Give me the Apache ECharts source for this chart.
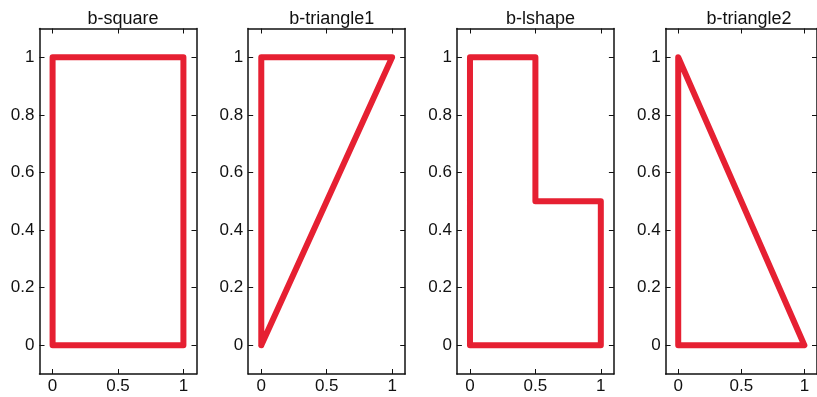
<!DOCTYPE html>
<html>
<head>
<meta charset="utf-8">
<script src="https://cdn.jsdelivr.net/npm/echarts@6/dist/echarts.min.js"></script>
<style>
html,body{margin:0;padding:0;background:#fff;}
#chart{width:817px;height:397px;}
</style>
</head>
<body>
<div id="chart"></div>
<script>
const titles = ['b-square', 'b-triangle1', 'b-lshape', 'b-triangle2'];
const squareX = [0, 0, 1, 1, 0];
const squareY = [0, 1, 1, 0, 0];
const triangle1X = [0, 0, 1, 0];
const triangle1Y = [0, 1, 1, 0];
const lshapeX = [0, 0, 0.5, 0.5, 1, 1, 0];
const lshapeY = [0, 1, 1, 0.5, 0.5, 0, 0];
const triangle2X = [0, 0, 1, 0];
const triangle2Y = [0, 1, 0, 0];
const xTicks = [0, 0.5, 1];
const yTicks = [0, 0.2, 0.4, 0.6, 0.8, 1];
const xRange = [-0.1, 1.1];
const yRange = [-0.1, 1.1];

const shapesX = [squareX, triangle1X, lshapeX, triangle2X];
const shapesY = [squareY, triangle1Y, lshapeY, triangle2Y];

const lefts = [39.5, 248.2, 456.9, 665.6];
const gridW = 157;
const gridTop = 28.5;
const gridH = 345.5;
const red = '#e62032';
const font = 'Liberation Sans, Arial, Helvetica, sans-serif';
const fs = 17;

const grid = [], xAxis = [], yAxis = [], series = [], title = [];
const axisLineStyle = { show: true, onZero: false, lineStyle: { color: '#111', width: 1.5 } };

for (let i = 0; i < 4; i++) {
  grid.push({ left: lefts[i], top: gridTop, width: gridW, height: gridH, containLabel: false });
  title.push({
    text: titles[i], left: lefts[i] + gridW / 2, top: 5, textAlign: 'center',
    textStyle: { fontFamily: font, fontSize: 18, fontWeight: 'normal', color: '#111' }
  });
  const baseX = {
    type: 'value', gridIndex: i, min: xRange[0], max: xRange[1],
    axisLine: axisLineStyle, splitLine: { show: false },
    axisTick: { show: true, inside: true, length: 5, customValues: xTicks, lineStyle: { color: '#111', width: 1 } }
  };
  xAxis.push(Object.assign({}, baseX, {
    position: 'bottom',
    axisLabel: { show: true, customValues: xTicks, margin: 4, fontFamily: font, fontSize: fs, color: '#111' }
  }));
  xAxis.push(Object.assign({}, baseX, { position: 'top', axisLabel: { show: false } }));
  const baseY = {
    type: 'value', gridIndex: i, min: yRange[0], max: yRange[1],
    axisLine: axisLineStyle, splitLine: { show: false },
    axisTick: { show: true, inside: true, length: 5, customValues: yTicks, lineStyle: { color: '#111', width: 1 } }
  };
  yAxis.push(Object.assign({}, baseY, {
    position: 'left',
    axisLabel: { show: true, customValues: yTicks, margin: 5, fontFamily: font, fontSize: fs, color: '#111' }
  }));
  yAxis.push(Object.assign({}, baseY, { position: 'right', axisLabel: { show: false } }));
  const pts = shapesX[i].map((x, k) => [x, shapesY[i][k]]);
  series.push({
    type: 'line', xAxisIndex: i * 2, yAxisIndex: i * 2, data: pts,
    symbol: 'none', clip: false,
    lineStyle: { color: red, width: 6, cap: 'round', join: 'round' }
  });
}

const chart = echarts.init(document.getElementById('chart'), null, { renderer: 'canvas' });
chart.setOption({ animation: false, backgroundColor: '#fff', title, grid, xAxis, yAxis, series });
</script>
</body>
</html>
